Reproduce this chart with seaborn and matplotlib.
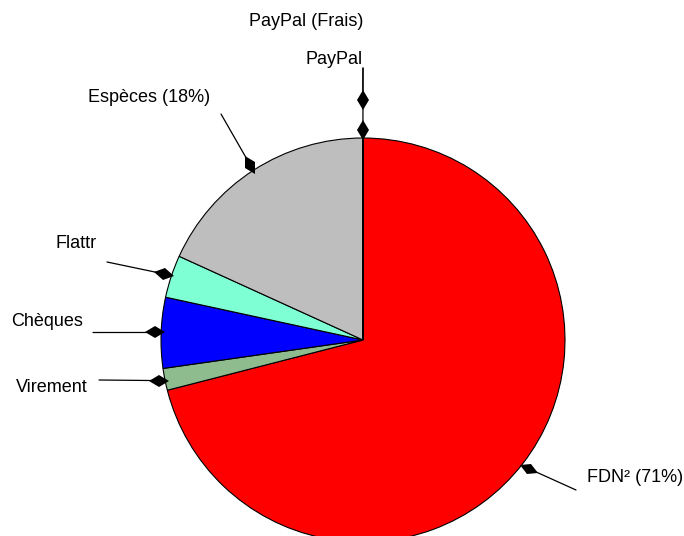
import numpy as np
import matplotlib
matplotlib.use("Agg")
import matplotlib.pyplot as plt
import seaborn as sns
from matplotlib.markers import MarkerStyle
from matplotlib.transforms import Affine2D

sns.set_theme(style="white")
plt.rcParams['font.family'] = ['Liberation Sans', 'DejaVu Sans']

# Données (pourcentages)
categories = ['FDN²', 'Virement', 'Chèques', 'Flattr', 'Espèces',
              'PayPal (Frais)', 'PayPal']
valeurs = [71.0, 1.75, 5.65, 3.4, 18.18, 0.01, 0.01]
etiquettes = ['FDN² (71%)', 'Virement', 'Chèques', 'Flattr', 'Espèces (18%)',
              'PayPal (Frais)', 'PayPal']
couleurs = ['#ff0000', '#8fbc8f', '#0000ff', '#7fffd4', '#bebebe',
            '#ffffff', '#ffffff']

# Placement des étiquettes (pixels de l'image de référence)
CX, CY, R = 363, 340, 202
texte_px = [(587, 478), (16, 387), (11, 322), (55, 243), (88, 98),
            (363, 22), (363, 59)]
texte_ha = ['left', 'left', 'left', 'left', 'left', 'right', 'right']
ligne_px = [(576, 490), (99, 380), (93, 332.5), (107, 262), (221, 114),
            (363, 68), (363, 68)]
rayon_pointe = [1.04, 1.03, 1.03, 1.04, 1.03, 1.19, 1.04]


def px(p):
    return ((p[0] - CX) / R, (CY - p[1]) / R)


fig = plt.figure(figsize=(6.84, 5.36), dpi=100)
ax = fig.add_axes([0, 0, 1, 1])
wedges, _ = ax.pie(valeurs, colors=couleurs, startangle=90, counterclock=False,
                   radius=1.0, wedgeprops=dict(edgecolor='black', linewidth=0.8))
ax.set_xlim(-CX / R, (684 - CX) / R)
ax.set_ylim(-(536 - CY) / R, CY / R)
ax.set_aspect('auto')
ax.axis('off')

for w, lab, tp, ha, lp, rr in zip(wedges, etiquettes, texte_px, texte_ha,
                                  ligne_px, rayon_pointe):
    ang = np.deg2rad((w.theta1 + w.theta2) / 2)
    tip = (rr * np.cos(ang), rr * np.sin(ang))
    start = px(lp)
    ax.plot([start[0], tip[0]], [start[1], tip[1]], color='black', lw=0.9)
    direction = np.degrees(np.arctan2(tip[1] - start[1], tip[0] - start[0]))
    m = MarkerStyle('d', transform=Affine2D().rotate_deg(direction + 90))
    ax.plot(tip[0], tip[1], marker=m, color='black', markersize=10, mew=0)
    tx, ty = px(tp)
    ax.text(tx, ty, lab, ha=ha, va='center', fontsize=13, color='black')

fig.savefig('out.png', dpi=100)
